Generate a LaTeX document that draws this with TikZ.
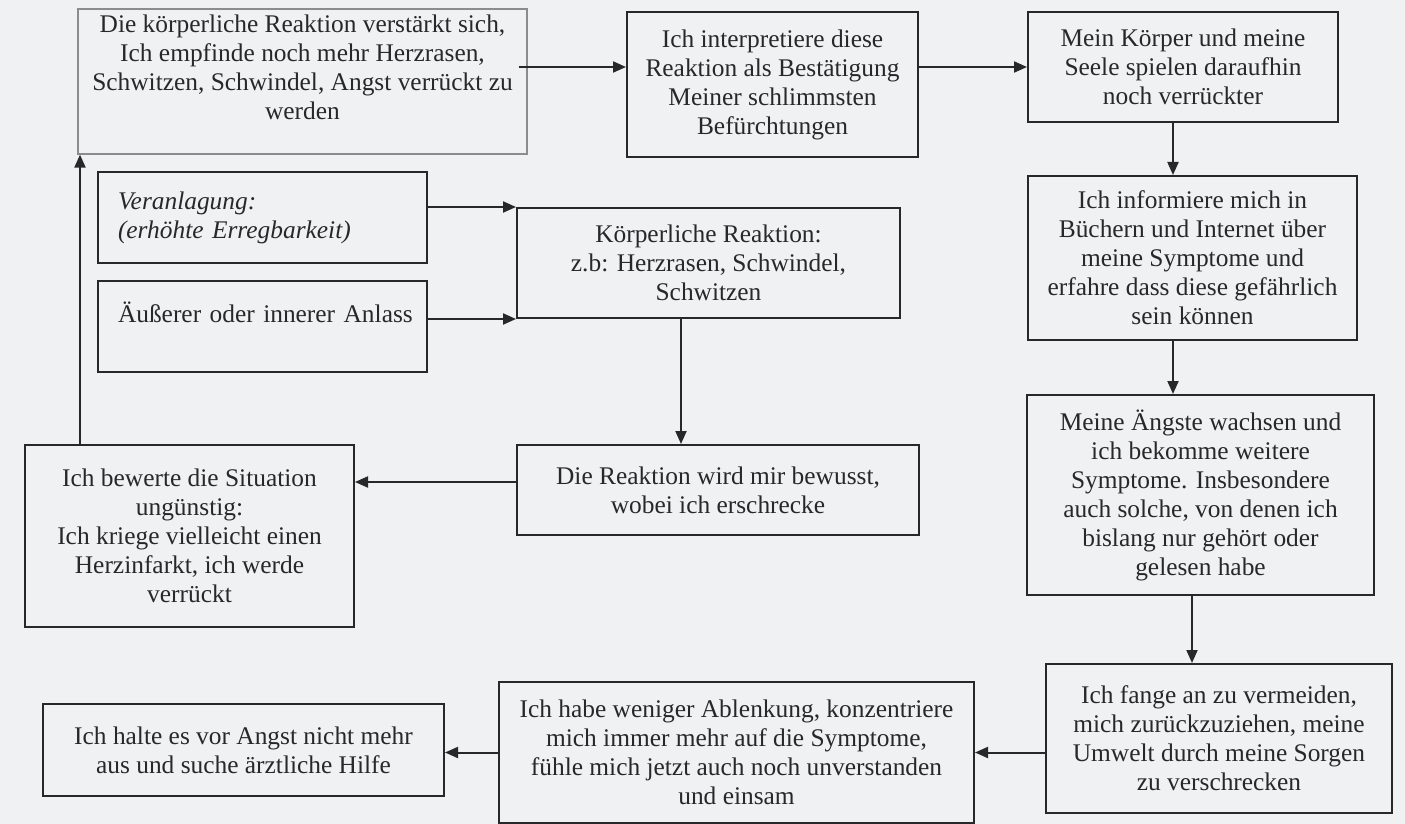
\documentclass[tikz,border=0pt]{standalone}
\usepackage{fontspec}
\setmainfont{Liberation Serif}
\usetikzlibrary{arrows.meta,calc,positioning}
\definecolor{paper}{RGB}{240,241,243}
\definecolor{ink}{RGB}{40,40,40}
\definecolor{framegray}{RGB}{140,140,140}

\begin{document}
\begin{tikzpicture}[
    x=0.5pt, y=-0.5pt,
    box/.style={rectangle, draw=ink, line width=1pt, align=center, inner sep=0pt, text=ink, font=\fontsize{12.7}{14.5}\selectfont},
    leftbox/.style={box, align=left, text width=144.5pt},
    arrow/.style={-{Triangle[length=6.5pt,width=5.5pt]}, line width=1pt, draw=ink}
]
    \path[use as bounding box, fill=paper] (0,0) rectangle (1405,824);

    \node[box, draw=framegray, line width=0.6pt, minimum width=224.5pt, minimum height=72.5pt] (rise) at (302.5,81.5) {
        Die körperliche Reaktion verstärkt sich,\\Ich empfinde noch mehr Herzrasen,\\Schwitzen, Schwindel, Angst verrückt zu\\werden\\\mbox{}
    };
    \node[box, minimum width=145.5pt, minimum height=72.5pt] (interp) at (772.5,84.5) {
        Ich interpretiere diese\\Reaktion als Bestätigung\\Meiner schlimmsten\\Befürchtungen
    };
    \node[box, minimum width=155pt, minimum height=55pt] (crazier) at (1183,67) {
        Mein Körper und meine\\Seele spielen daraufhin\\noch verrückter
    };
    \node[box, minimum width=164.5pt, minimum height=82pt] (inform) at (1192.5,258) {
        Ich informiere mich in\\Büchern und Internet über\\meine Symptome und\\erfahre dass diese gefährlich\\sein können
    };
    \node[box, minimum width=173.5pt, minimum height=100pt] (fears) at (1200.5,495) {
        Meine Ängste wachsen und\\ich bekomme weitere\\Symptome. Insbesondere\\auch solche, von denen ich\\bislang nur gehört oder\\gelesen habe
    };
    \node[box, minimum width=173pt, minimum height=74.5pt] (avoid) at (1219,738.5) {
        Ich fange an zu vermeiden,\\mich zurückzuziehen, meine\\Umwelt durch meine Sorgen\\zu verschrecken
    };
    \node[box, minimum width=237.5pt, minimum height=70.5pt] (lonely) at (736.5,752.5) {
        Ich habe weniger Ablenkung, konzentriere\\mich immer mehr auf die Symptome,\\fühle mich jetzt auch noch unverstanden\\und einsam
    };
    \node[box, minimum width=200.5pt, minimum height=46pt] (help) at (243.5,750) {
        Ich halte es vor Angst nicht mehr\\aus und suche ärztliche Hilfe
    };
    \node[box, minimum width=164.5pt, minimum height=91pt] (appraise) at (189.5,536) {
        Ich bewerte die Situation\\ungünstig:\\Ich kriege vielleicht einen\\Herzinfarkt, ich werde\\verrückt
    };
    \node[box, minimum width=201pt, minimum height=45pt] (aware) at (718,490) {
        Die Reaktion wird mir bewusst,\\wobei ich erschrecke
    };
    \node[box, minimum width=191.5pt, minimum height=55pt] (body) at (708.5,263) {
        Körperliche Reaktion:\\z.b: Herzrasen, Schwindel,\\Schwitzen
    };
    \node[leftbox, font=\fontsize{12.7}{14.5}\selectfont\itshape, minimum width=164.5pt, minimum height=45.5pt] (dispo) at (262.5,217.5) {
        Veranlagung:\\(erhöhte Erregbarkeit)
    };
    \node[leftbox, minimum width=164.5pt, minimum height=45.5pt] (trigger) at (262.5,326.5) {
        \mbox{Äußerer oder innerer Anlass}\\\mbox{}
    };

    % circle of escalation
    \draw[arrow] ($(rise.east)+(-9,-14.5)$) -- ($(interp.west)+(0,-17.5)$);
    \draw[arrow] (interp.east |- crazier.west) -- (crazier.west);
    \draw[arrow] ($(crazier.south)+(-10,0)$) -- ($(inform.north)+(-19.5,0)$);
    \draw[arrow] ($(inform.south)+(-19.5,0)$) -- ($(fears.north)+(-27.5,0)$);
    \draw[arrow] ($(fears.south)+(-8.5,0)$) -- ($(avoid.north)+(-27,0)$);
    \draw[arrow] (avoid.west |- lonely.east) -- (lonely.east);
    \draw[arrow] (lonely.west) -- (lonely.west -| help.east);

    % onset
    \draw[arrow] (dispo.east |- body.north west) -- (body.north west);
    \draw[arrow] (trigger.east |- body.south west) -- (body.south west);
    \draw[arrow] ($(body.south)+(-27.5,0)$) -- ($(aware.north)+(-37,0)$);
    \draw[arrow] ($(aware.west)+(0,-8)$) -- ($(appraise.east)+(0,-54)$);
    \draw[arrow] ($(appraise.north)+(-109.5,0)$) -- ($(rise.south)+(-222.5,0)$);
\end{tikzpicture}
\end{document}
